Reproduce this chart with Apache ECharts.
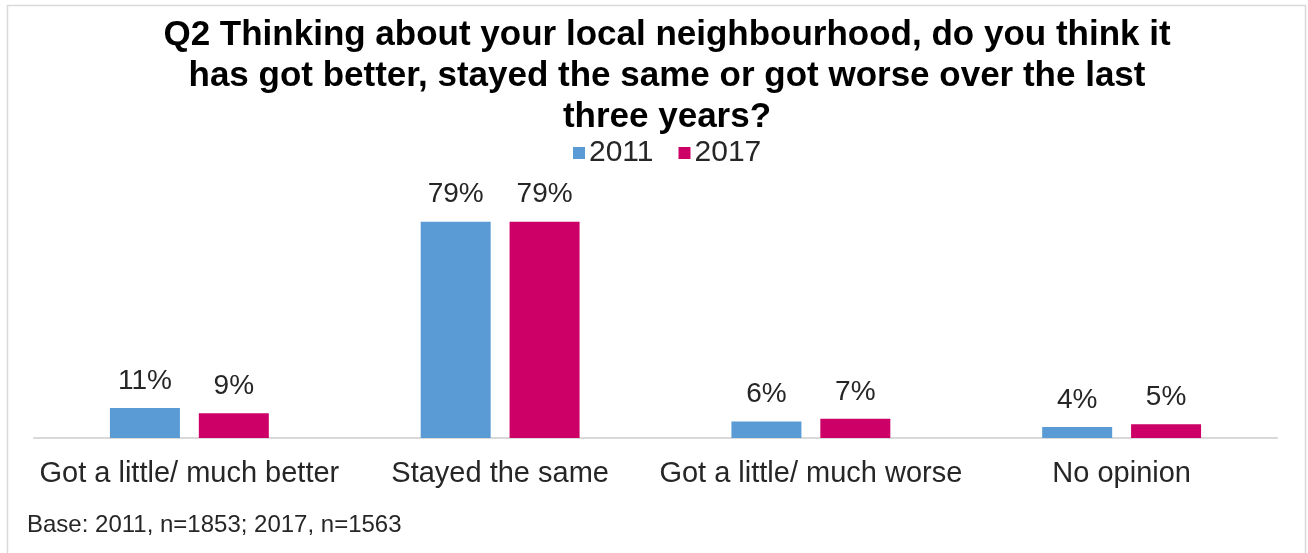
<!DOCTYPE html>
<html>
<head>
<meta charset="utf-8">
<script src="https://cdn.jsdelivr.net/npm/echarts@6/dist/echarts.min.js"></script>
<style>
  html, body { margin: 0; padding: 0; background: #ffffff; }
  #chart { width: 1308px; height: 553px; }
</style>
</head>
<body>
<div id="chart"></div>
<script>
// Survey responses, percentage of respondents
const categories = ['Got a little/ much better', 'Stayed the same', 'Got a little/ much worse', 'No opinion'];
const values2011 = [11, 79, 6, 4];
const values2017 = [9, 79, 7, 5];
const seriesNames = ['2011', '2017'];
const titleText = 'Q2 Thinking about your local neighbourhood, do you think it\nhas got better, stayed the same or got worse over the last\nthree years?';
const baseNote = 'Base: 2011, n=1853; 2017, n=1563';

const FONT = '"Liberation Sans", Arial, sans-serif';
const chart = echarts.init(document.getElementById('chart'), null, { renderer: 'canvas' });

const labelStyle = {
  show: true,
  position: 'top',
  distance: 13,
  formatter: '{c}%',
  fontFamily: FONT,
  fontSize: 28,
  color: '#262626'
};

chart.setOption({
  backgroundColor: '#ffffff',
  animation: false,
  graphic: [
    {
      type: 'rect',
      shape: { x: 7.5, y: 5.5, width: 1298, height: 560 },
      style: { fill: 'none', stroke: '#d9d9d9', lineWidth: 1.5 },
      silent: true
    },
    {
      type: 'text',
      left: 27,
      top: 513,
      style: { text: baseNote, font: '24px ' + FONT, fill: '#262626' }
    }
  ],
  title: {
    text: titleText,
    left: 662,
    textAlign: 'center',
    top: 10,
    textStyle: {
      fontFamily: FONT,
      fontWeight: 'bold',
      fontSize: 35,
      lineHeight: 41,
      color: '#000000'
    }
  },
  legend: {
    data: seriesNames,
    top: 133,
    left: 568,
    itemWidth: 12,
    itemHeight: 12,
    itemGap: 25,
    icon: 'rect',
    textStyle: { fontFamily: FONT, fontSize: 30, color: '#262626', padding: [0, 0, 0, -1] }
  },
  grid: { left: 34, right: 31, top: 219, bottom: 115, containLabel: false },
  xAxis: {
    type: 'category',
    data: categories,
    axisLine: { lineStyle: { color: '#d9d9d9', width: 2 } },
    axisTick: { show: false },
    axisLabel: {
      fontFamily: FONT,
      fontSize: 29,
      color: '#262626',
      margin: 21,
      interval: 0
    }
  },
  yAxis: {
    type: 'value',
    min: 0,
    max: 80,
    show: false,
    splitLine: { show: false }
  },
  series: [
    {
      name: seriesNames[0],
      type: 'bar',
      data: values2011,
      barWidth: 70,
      barGap: '27%',
      itemStyle: { color: '#5b9bd5' },
      label: labelStyle
    },
    {
      name: seriesNames[1],
      type: 'bar',
      data: values2017,
      barWidth: 70,
      itemStyle: { color: '#cc0066' },
      label: labelStyle
    }
  ]
});
</script>
</body>
</html>
